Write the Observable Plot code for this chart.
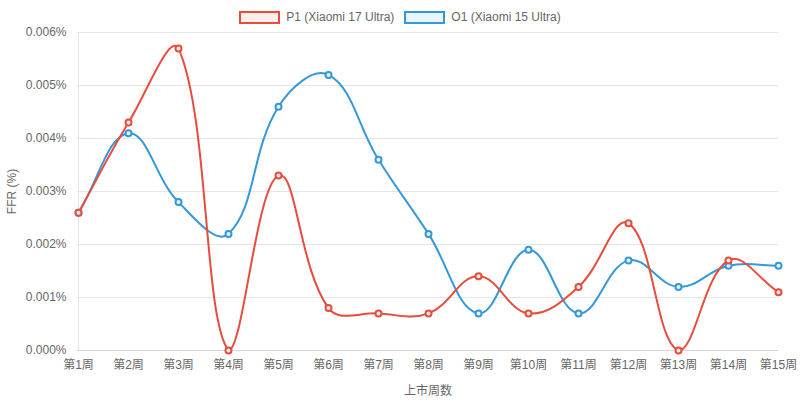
<!DOCTYPE html>
<html>
<head>
<meta charset="utf-8">
<script src="https://cdn.jsdelivr.net/npm/d3@7"></script>
<script src="https://cdn.jsdelivr.net/npm/@observablehq/plot@0.6"></script>
<style>
  html, body { margin: 0; padding: 0; background: #fff; }
  body { width: 800px; height: 401px; overflow: hidden; font-family: "Liberation Sans", Arial, "Noto Sans CJK SC", sans-serif; }
  #legend { height: 26px; box-sizing: border-box; padding-top: 11px; display: flex; justify-content: center; align-items: flex-start; font-size: 12px; color: #666; }
  .item { display: flex; align-items: center; margin: 0 5px; }
  .box { width: 41px; height: 13px; box-sizing: border-box; border: 2px solid; margin-right: 6px; }
  .lab { line-height: 13px; }
  svg { display: block; }
</style>
</head>
<body>
<div id="legend"></div>
<div id="chart"></div>
<script>
const weeks = ["第1周","第2周","第3周","第4周","第5周","第6周","第7周","第8周","第9周","第10周","第11周","第12周","第13周","第14周","第15周"];
const p1Values = [0.0026,0.0043,0.0057,0.0000,0.0033,0.0008,0.0007,0.0007,0.0014,0.0007,0.0012,0.0024,0.0000,0.0017,0.0011];
const o1Values = [0.0026,0.0041,0.0028,0.0022,0.0046,0.0052,0.0036,0.0022,0.0007,0.0019,0.0007,0.0017,0.0012,0.0016,0.0016];
const seriesNames = ["P1 (Xiaomi 17 Ultra)", "O1 (Xiaomi 15 Ultra)"];
const yTicks = [0, 0.001, 0.002, 0.003, 0.004, 0.005, 0.006];

const colors = ["#e74c3c", "#3498db"];
const fills = ["rgba(231,76,60,0.1)", "rgba(52,152,219,0.1)"];

const W = 800, H = 375;
const mL = 77, mR = 22, mT = 6, mB = 51;

// legend
const legend = document.getElementById("legend");
seriesNames.forEach((n, i) => {
  const it = document.createElement("div"); it.className = "item";
  const b = document.createElement("div"); b.className = "box";
  b.style.borderColor = colors[i]; b.style.background = fills[i];
  const l = document.createElement("span"); l.className = "lab"; l.textContent = n;
  it.appendChild(b); it.appendChild(l); legend.appendChild(it);
});

// Chart.js-like spline curve (tension 0.4, control points capped to chart area)
const TENSION = 0.4;
function splineCurve(context) {
  let pts = [];
  return {
    areaStart() {}, areaEnd() {},
    lineStart() { pts = []; },
    point(x, y) { pts.push([+x, +y]); },
    lineEnd() {
      const n = pts.length;
      if (!n) return;
      const cap = (v, lo, hi) => Math.max(lo, Math.min(hi, v));
      const cps = pts.map((p, i) => {
        const prev = pts[i - 1] || p, next = pts[i + 1] || p;
        const d01 = Math.hypot(p[0] - prev[0], p[1] - prev[1]);
        const d12 = Math.hypot(next[0] - p[0], next[1] - p[1]);
        let s01 = d01 / (d01 + d12), s12 = d12 / (d01 + d12);
        if (!isFinite(s01)) s01 = 0;
        if (!isFinite(s12)) s12 = 0;
        const fa = TENSION * s01, fb = TENSION * s12;
        const dx = next[0] - prev[0], dy = next[1] - prev[1];
        return {
          prev: [cap(p[0] - fa * dx, mL, W - mR), cap(p[1] - fa * dy, mT, H - mB)],
          next: [cap(p[0] + fb * dx, mL, W - mR), cap(p[1] + fb * dy, mT, H - mB)]
        };
      });
      context.moveTo(pts[0][0], pts[0][1]);
      for (let i = 1; i < n; i++) {
        context.bezierCurveTo(cps[i - 1].next[0], cps[i - 1].next[1], cps[i].prev[0], cps[i].prev[1], pts[i][0], pts[i][1]);
      }
    }
  };
}

const p1 = weeks.map((w, i) => ({week: w, v: p1Values[i]}));
const o1 = weeks.map((w, i) => ({week: w, v: o1Values[i]}));

const chart = Plot.plot({
  width: W, height: H,
  marginLeft: mL, marginRight: mR, marginTop: mT, marginBottom: mB,
  style: {fontFamily: "'Liberation Sans', Arial, 'Noto Sans CJK SC', sans-serif", fontSize: "12px", color: "#666", background: "#fff"},
  x: {type: "point", domain: weeks, padding: 0},
  y: {domain: [0, 0.006]},
  marks: [
    Plot.gridY(yTicks, {stroke: "#e6e6e6", strokeOpacity: 1}),
    Plot.ruleX([weeks[0]], {stroke: "#e6e6e6", strokeOpacity: 1}),
    Plot.ruleY([0], {stroke: "#d6d6d6", strokeOpacity: 1}),
    Plot.axisY(yTicks, {tickSize: 0, tickPadding: 11, tickFormat: d => d.toFixed(3) + "%", fill: "#666", fontSize: 12,
      label: "FFR (%)", labelAnchor: "center", labelArrow: "none", labelOffset: 70}),
    Plot.axisX({tickSize: 0, tickPadding: 10, fill: "#666", fontSize: 12,
      label: "上市周数", labelAnchor: "center", labelArrow: "none", labelOffset: 44}),
    Plot.line(o1, {x: "week", y: "v", stroke: colors[1], strokeWidth: 2, curve: splineCurve}),
    Plot.line(p1, {x: "week", y: "v", stroke: colors[0], strokeWidth: 2, curve: splineCurve}),
    Plot.dot(o1, {x: "week", y: "v", r: 3, stroke: colors[1], strokeWidth: 2, fill: "#eaf4fb"}),
    Plot.dot(p1, {x: "week", y: "v", r: 3, stroke: colors[0], strokeWidth: 2, fill: "#fdeeec"})
  ]
});
document.getElementById("chart").appendChild(chart);
</script>
</body>
</html>
